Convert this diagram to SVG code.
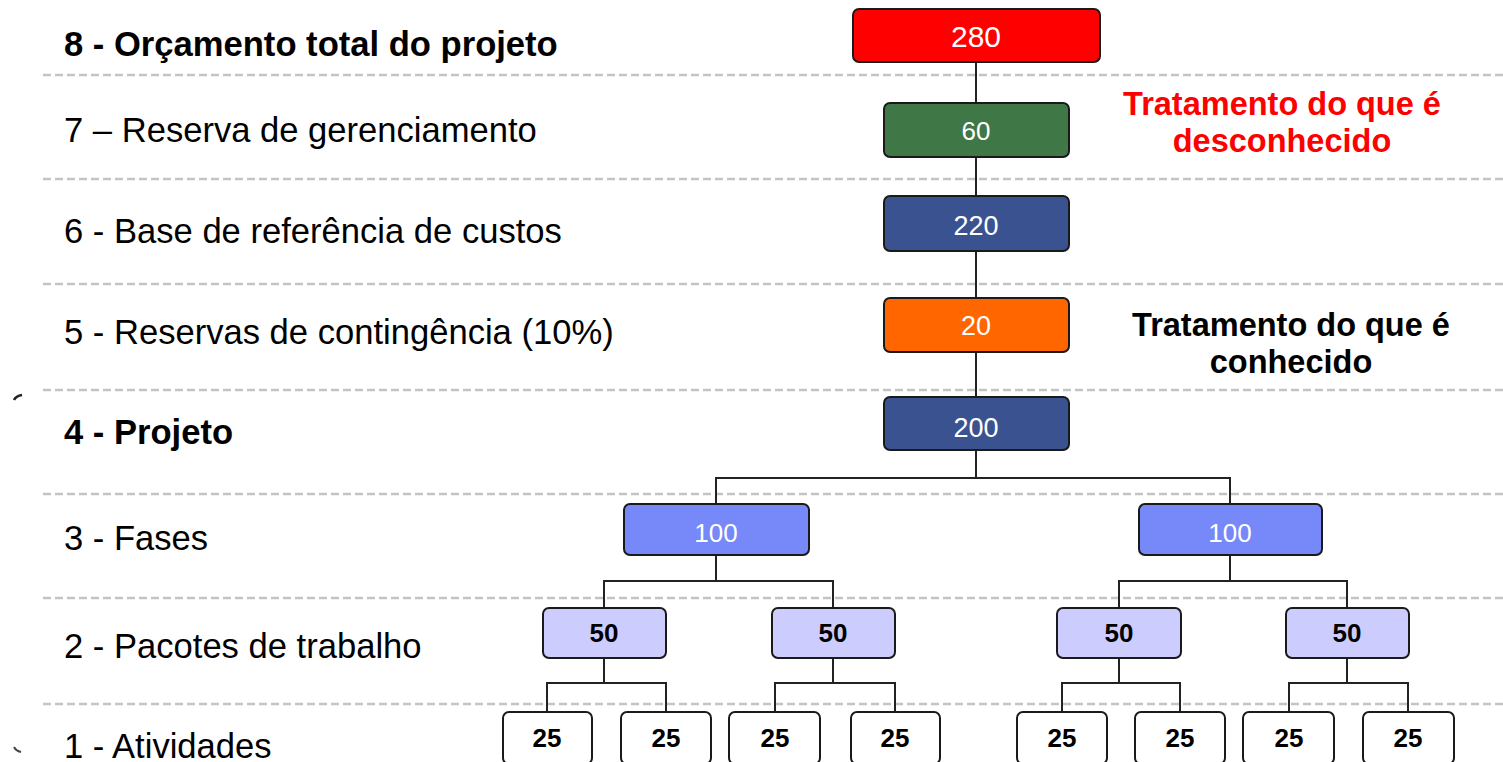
<svg xmlns="http://www.w3.org/2000/svg" width="1503" height="762" viewBox="0 0 1503 762">
<style>
.grid{stroke:#c4c4c4;stroke-width:2.5;stroke-dasharray:8 4;fill:none}
.conn{stroke:#222;stroke-width:2;fill:none}
.box{stroke:#1a1a1a;stroke-width:2}
.lbl{font-family:"Liberation Sans",Arial,sans-serif;font-size:34.6px;fill:#000}
.b{font-weight:bold}
.num{font-family:"Liberation Sans",Arial,sans-serif;font-size:27px;text-anchor:middle}
.w{fill:#fff}
.k{fill:#000;font-weight:bold;font-size:26px}
.note{font-family:"Liberation Sans",Arial,sans-serif;font-size:32.5px;font-weight:bold;text-anchor:middle}
</style>
<rect width="1503" height="762" fill="#fff"/>
<g id="grid">
<line class="grid" x1="43" y1="75" x2="1503" y2="75"/>
<line class="grid" x1="43" y1="179" x2="1503" y2="179"/>
<line class="grid" x1="43" y1="284" x2="1503" y2="284"/>
<line class="grid" x1="43" y1="390" x2="1503" y2="390"/>
<line class="grid" x1="43" y1="494" x2="1503" y2="494"/>
<line class="grid" x1="43" y1="598" x2="1503" y2="598"/>
<line class="grid" x1="43" y1="704" x2="1503" y2="704"/>
</g>
<g id="labels">
<text class="lbl b" x="64" y="56">8 - Orçamento total do projeto</text>
<text class="lbl" x="64" y="142">7 – Reserva de gerenciamento</text>
<text class="lbl" x="64" y="243">6 - Base de referência de custos</text>
<text class="lbl" x="64" y="344">5 - Reservas de contingência (10%)</text>
<text class="lbl b" x="64" y="444">4 - Projeto</text>
<text class="lbl" x="64" y="550">3 - Fases</text>
<text class="lbl" x="64" y="658">2 - Pacotes de trabalho</text>
<text class="lbl" x="64" y="758">1 - Atividades</text>
</g>
<g id="marks">
<path d="M14 400 Q16 396 22 395" stroke="#222" stroke-width="2.5" fill="none"/>
<path d="M14 747 Q16 751 21 752" stroke="#444" stroke-width="2" fill="none"/>
</g>
<g id="notes">
<text class="note" fill="#ff0000" x="1282" y="115">Tratamento do que é</text>
<text class="note" fill="#ff0000" x="1282" y="152">desconhecido</text>
<text class="note" fill="#000" x="1291" y="336">Tratamento do que é</text>
<text class="note" fill="#000" x="1291" y="373">conhecido</text>
</g>
<g id="connectors">
<line class="conn" x1="976" y1="62" x2="976" y2="397"/>
<polyline class="conn" points="976,450 976,478"/>
<polyline class="conn" points="716,504 716,478 1230,478 1230,504"/>
<polyline class="conn" points="716,555 716,581"/>
<polyline class="conn" points="604,608 604,581 833,581 833,608"/>
<polyline class="conn" points="1230,555 1230,581"/>
<polyline class="conn" points="1119,608 1119,581 1347,581 1347,608"/>
<polyline class="conn" points="604,658 604,683"/>
<polyline class="conn" points="547,712 547,683 666,683 666,712"/>
<polyline class="conn" points="833,658 833,683"/>
<polyline class="conn" points="775,712 775,683 895,683 895,712"/>
<polyline class="conn" points="1119,658 1119,683"/>
<polyline class="conn" points="1062,712 1062,683 1180,683 1180,712"/>
<polyline class="conn" points="1347,658 1347,683"/>
<polyline class="conn" points="1289,712 1289,683 1408,683 1408,712"/>
</g>
<g id="n280"><rect class="box" x="853" y="9" width="247" height="53" rx="6" fill="#ff0000"/><text class="num w" x="976" y="47" style="font-size:30px">280</text></g>
<g id="n60"><rect class="box" x="884" y="103" width="185" height="54" rx="6" fill="#3f7746"/><text class="num w" x="976" y="140" style="font-size:26px">60</text></g>
<g id="n220"><rect class="box" x="884" y="196" width="185" height="55" rx="6" fill="#3b5290"/><text class="num w" x="976" y="235">220</text></g>
<g id="n20"><rect class="box" x="884" y="298" width="185" height="54" rx="6" fill="#ff6600"/><text class="num w" x="976" y="335">20</text></g>
<g id="n200"><rect class="box" x="884" y="397" width="185" height="53" rx="6" fill="#3b5290"/><text class="num w" x="976" y="437">200</text></g>
<g id="n100a"><rect class="box" x="624" y="504" width="185" height="51" rx="6" fill="#7788f8"/><text class="num w" x="716" y="542" style="font-size:26px">100</text></g>
<g id="n100b"><rect class="box" x="1139" y="504" width="183" height="51" rx="6" fill="#7788f8"/><text class="num w" x="1230" y="542" style="font-size:26px">100</text></g>
<g id="n50a"><rect class="box" x="543" y="608" width="123" height="50" rx="6" fill="#ccccff"/><text class="num k" x="604" y="642">50</text></g>
<g id="n50b"><rect class="box" x="772" y="608" width="123" height="50" rx="6" fill="#ccccff"/><text class="num k" x="833" y="642">50</text></g>
<g id="n50c"><rect class="box" x="1057" y="608" width="124" height="50" rx="6" fill="#ccccff"/><text class="num k" x="1119" y="642">50</text></g>
<g id="n50d"><rect class="box" x="1286" y="608" width="123" height="50" rx="6" fill="#ccccff"/><text class="num k" x="1347" y="642">50</text></g>
<g id="n25a"><rect class="box" x="503" y="712" width="89" height="52" rx="6" fill="#fff"/><text class="num k" x="547" y="747">25</text></g>
<g id="n25b"><rect class="box" x="621" y="712" width="90" height="52" rx="6" fill="#fff"/><text class="num k" x="666" y="747">25</text></g>
<g id="n25c"><rect class="box" x="729" y="712" width="91" height="52" rx="6" fill="#fff"/><text class="num k" x="775" y="747">25</text></g>
<g id="n25d"><rect class="box" x="851" y="712" width="89" height="52" rx="6" fill="#fff"/><text class="num k" x="895" y="747">25</text></g>
<g id="n25e"><rect class="box" x="1017" y="712" width="90" height="52" rx="6" fill="#fff"/><text class="num k" x="1062" y="747">25</text></g>
<g id="n25f"><rect class="box" x="1135" y="712" width="90" height="52" rx="6" fill="#fff"/><text class="num k" x="1180" y="747">25</text></g>
<g id="n25g"><rect class="box" x="1243" y="712" width="91" height="52" rx="6" fill="#fff"/><text class="num k" x="1289" y="747">25</text></g>
<g id="n25h"><rect class="box" x="1363" y="712" width="91" height="52" rx="6" fill="#fff"/><text class="num k" x="1408" y="747">25</text></g>
</svg>
